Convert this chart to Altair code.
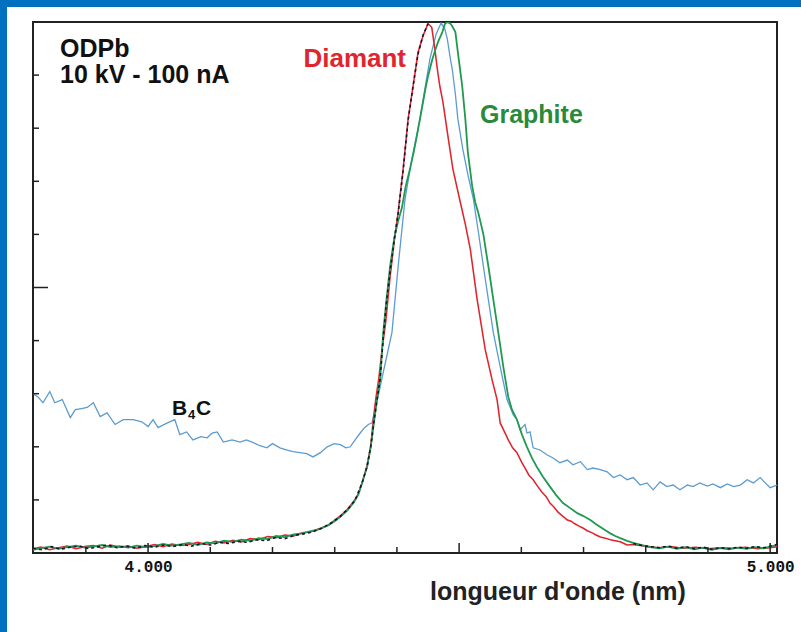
import altair as alt
import pandas as pd

# ---------------- data (x in nm, y in arbitrary units 0-10) ----------------
b4c_x = [3.815, 3.823, 3.831, 3.842, 3.850, 3.862, 3.875, 3.883, 3.893, 3.902, 3.912, 3.923, 3.934,
         3.947, 3.960, 3.976, 3.990, 4.000, 4.008, 4.016, 4.031, 4.043, 4.051, 4.062, 4.072, 4.085,
         4.095, 4.103, 4.111, 4.121, 4.135, 4.148, 4.158, 4.169, 4.180, 4.191, 4.200, 4.212, 4.222,
         4.233, 4.244, 4.255, 4.265, 4.277, 4.288, 4.299, 4.309, 4.318, 4.325, 4.334, 4.341, 4.348,
         4.354, 4.360, 4.368, 4.378, 4.392, 4.402, 4.413, 4.424, 4.437, 4.445, 4.453, 4.463, 4.471,
         4.477, 4.481, 4.486, 4.489, 4.494, 4.498, 4.506, 4.514, 4.523, 4.531, 4.539, 4.547, 4.555,
         4.566, 4.577, 4.582, 4.587, 4.593, 4.598, 4.606, 4.609, 4.614, 4.619, 4.630, 4.641, 4.651,
         4.662, 4.674, 4.683, 4.695, 4.706, 4.715, 4.727, 4.738, 4.748, 4.759, 4.770, 4.780, 4.791,
         4.802, 4.812, 4.823, 4.834, 4.844, 4.855, 4.867, 4.876, 4.887, 4.899, 4.908, 4.920, 4.931,
         4.941, 4.952, 4.963, 4.973, 4.984, 4.992, 5.000, 5.011]
b4c_y = [3.00, 2.94, 2.83, 3.04, 2.83, 2.89, 2.55, 2.70, 2.72, 2.74, 2.83, 2.57, 2.64,
         2.42, 2.51, 2.51, 2.47, 2.38, 2.51, 2.36, 2.45, 2.51, 2.23, 2.28, 2.13, 2.19,
         2.17, 2.26, 2.28, 2.09, 2.13, 2.09, 2.13, 2.08, 2.02, 1.98, 2.06, 1.98, 1.94,
         1.91, 1.89, 1.87, 1.81, 1.89, 2.00, 2.06, 2.04, 1.98, 2.00, 2.15, 2.26, 2.36,
         2.42, 2.45, 2.85, 3.40, 4.15, 5.40, 6.66, 7.42, 8.17, 8.74, 9.30, 9.77, 9.98,
         9.87, 9.68, 9.30, 9.11, 8.64, 8.17, 7.60, 7.13, 6.66, 6.04, 5.40, 4.77, 4.15,
         3.51, 2.89, 2.75, 2.60, 2.51, 2.32, 2.42, 2.26, 2.28, 1.98, 1.94, 1.85, 1.79,
         1.70, 1.75, 1.66, 1.72, 1.57, 1.60, 1.57, 1.53, 1.42, 1.47, 1.38, 1.42, 1.28,
         1.32, 1.19, 1.34, 1.25, 1.28, 1.19, 1.28, 1.25, 1.32, 1.26, 1.30, 1.23, 1.30,
         1.25, 1.28, 1.38, 1.32, 1.42, 1.32, 1.23, 1.28]

diamant_x = [3.815, 3.828, 3.842, 3.856, 3.870, 3.884, 3.898, 3.912, 3.926, 3.940, 3.954, 3.968,
             3.982, 3.996, 4.010, 4.024, 4.038, 4.052, 4.066, 4.080, 4.094, 4.108, 4.122, 4.136,
             4.150, 4.164, 4.178, 4.192, 4.206, 4.220, 4.234, 4.248, 4.262, 4.276, 4.290, 4.300,
             4.309, 4.320, 4.330, 4.338, 4.344, 4.352, 4.358, 4.362, 4.366, 4.371, 4.376, 4.382,
             4.389, 4.396, 4.402, 4.410, 4.418, 4.426, 4.434, 4.442, 4.450, 4.456, 4.461, 4.465,
             4.469, 4.474, 4.482, 4.490, 4.502, 4.510, 4.518, 4.529, 4.542, 4.553, 4.561, 4.566,
             4.573, 4.579, 4.586, 4.593, 4.600, 4.606, 4.612, 4.619, 4.626, 4.633, 4.640, 4.646,
             4.652, 4.659, 4.666, 4.674, 4.680, 4.686, 4.692, 4.699, 4.706, 4.714, 4.720, 4.727,
             4.735, 4.743, 4.751, 4.759, 4.765, 4.770, 4.778, 4.791, 4.805, 4.820, 4.840, 4.860,
             4.880, 4.900, 4.920, 4.940, 4.960, 4.980, 5.000, 5.011]
diamant_y = [0.08, 0.11, 0.06, 0.10, 0.13, 0.08, 0.12, 0.14, 0.09, 0.15, 0.11, 0.13,
             0.09, 0.12, 0.16, 0.12, 0.17, 0.14, 0.16, 0.20, 0.16, 0.22, 0.19, 0.24,
             0.21, 0.27, 0.25, 0.31, 0.29, 0.34, 0.32, 0.38, 0.40, 0.46, 0.52, 0.62,
             0.70, 0.82, 0.96, 1.12, 1.32, 1.64, 2.02, 2.50, 2.90, 3.30, 3.82, 4.35,
             5.20, 5.90, 6.42, 7.23, 8.17, 8.79, 9.43, 9.74, 9.97, 9.90, 9.49, 9.11,
             8.79, 8.49, 7.85, 7.23, 6.60, 6.19, 5.72, 4.77, 3.83, 3.26, 2.89, 2.45,
             2.28, 2.13, 1.98, 1.89, 1.72, 1.60, 1.47, 1.38, 1.26, 1.15, 1.06, 0.94,
             0.87, 0.77, 0.70, 0.62, 0.60, 0.55, 0.51, 0.47, 0.42, 0.38, 0.34, 0.30,
             0.28, 0.25, 0.23, 0.21, 0.18, 0.15, 0.16, 0.14, 0.12, 0.10, 0.12, 0.09,
             0.11, 0.08, 0.10, 0.09, 0.11, 0.08, 0.10, 0.12]

graphite_x = [3.815, 3.828, 3.842, 3.856, 3.870, 3.884, 3.898, 3.912, 3.926, 3.940, 3.954, 3.968,
              3.982, 3.996, 4.010, 4.024, 4.038, 4.052, 4.066, 4.080, 4.094, 4.108, 4.122, 4.136,
              4.150, 4.164, 4.178, 4.192, 4.206, 4.220, 4.234, 4.248, 4.262, 4.276, 4.290, 4.300,
              4.309, 4.320, 4.330, 4.338, 4.344, 4.352, 4.358, 4.363, 4.368, 4.373, 4.378, 4.383,
              4.389, 4.396, 4.402, 4.408, 4.414, 4.421, 4.427, 4.432, 4.437, 4.442, 4.446, 4.450,
              4.457, 4.461, 4.466, 4.473, 4.477, 4.481, 4.486, 4.489, 4.494, 4.498, 4.505, 4.510,
              4.514, 4.521, 4.526, 4.531, 4.539, 4.547, 4.555, 4.563, 4.571, 4.579, 4.585, 4.593,
              4.601, 4.609, 4.617, 4.625, 4.635, 4.646, 4.656, 4.667, 4.678, 4.690, 4.699, 4.711,
              4.719, 4.727, 4.735, 4.743, 4.751, 4.759, 4.770, 4.780, 4.794, 4.807, 4.822, 4.836,
              4.850, 4.864, 4.878, 4.892, 4.906, 4.920, 4.934, 4.948, 4.962, 4.976, 4.990, 5.000,
              5.011]
graphite_y = [0.06, 0.09, 0.12, 0.08, 0.11, 0.14, 0.10, 0.12, 0.15, 0.11, 0.13, 0.10,
              0.14, 0.11, 0.13, 0.17, 0.14, 0.16, 0.19, 0.15, 0.20, 0.18, 0.23, 0.21,
              0.25, 0.23, 0.28, 0.26, 0.32, 0.30, 0.35, 0.37, 0.41, 0.45, 0.53, 0.60,
              0.68, 0.80, 0.94, 1.10, 1.32, 1.62, 2.00, 2.45, 2.89, 3.26, 4.15, 4.75,
              5.40, 5.95, 6.25, 6.50, 6.90, 7.23, 7.55, 7.85, 8.17, 8.49, 8.75, 8.98,
              9.30, 9.45, 9.62, 9.81, 9.96, 10.0, 9.97, 9.92, 9.81, 9.43, 8.79, 8.17,
              7.55, 6.91, 6.60, 6.40, 6.00, 5.40, 4.77, 4.15, 3.51, 2.94, 2.70, 2.51,
              2.23, 2.00, 1.79, 1.62, 1.43, 1.25, 1.09, 0.94, 0.85, 0.75, 0.70, 0.62,
              0.55, 0.49, 0.43, 0.37, 0.32, 0.28, 0.23, 0.19, 0.15, 0.11, 0.09, 0.12,
              0.08, 0.11, 0.07, 0.10, 0.06, 0.09, 0.07, 0.10, 0.08, 0.11, 0.09, 0.12,
              0.15]

noir_gauche_x = [3.815, 3.830, 3.845, 3.860, 3.875, 3.890, 3.905, 3.920, 3.935, 3.950, 3.965, 3.980,
                 3.995, 4.010, 4.025, 4.040, 4.055, 4.070, 4.085, 4.100, 4.115, 4.130, 4.145, 4.160,
                 4.175, 4.190, 4.205, 4.220, 4.235, 4.250, 4.265, 4.280, 4.295, 4.309, 4.322, 4.333,
                 4.344, 4.352, 4.358, 4.363, 4.368, 4.373, 4.378, 4.383, 4.389, 4.396, 4.402, 4.410,
                 4.418, 4.426, 4.434, 4.442, 4.450]
noir_gauche_y = [0.09, 0.06, 0.12, 0.07, 0.11, 0.13, 0.08, 0.12, 0.15, 0.10, 0.13, 0.09,
                 0.14, 0.11, 0.15, 0.12, 0.16, 0.13, 0.18, 0.15, 0.20, 0.18, 0.22, 0.20,
                 0.25, 0.23, 0.29, 0.27, 0.33, 0.36, 0.40, 0.47, 0.57, 0.69, 0.84, 1.00,
                 1.32, 1.63, 2.01, 2.47, 2.89, 3.28, 4.05, 4.70, 5.30, 5.92, 6.40, 7.20,
                 8.15, 8.80, 9.40, 9.75, 9.97]
noir_droite_x = [4.780, 4.794, 4.807, 4.822, 4.836, 4.850, 4.864, 4.878, 4.892, 4.906, 4.920, 4.934,
                 4.948, 4.962, 4.976, 4.990, 5.000, 5.011]
noir_droite_y = [0.18, 0.14, 0.12, 0.10, 0.13, 0.09, 0.12, 0.08, 0.11, 0.07, 0.10, 0.08,
                 0.11, 0.09, 0.12, 0.10, 0.13, 0.16]

x_labels = [4.0, 5.0]
x_ticks_minor = [3.9, 4.1, 4.2, 4.3, 4.4, 4.6, 4.7, 4.8, 4.9]
x_ticks_major = [4.0, 4.5, 5.0]
y_ticks_minor = [1, 2, 3, 4, 6, 7, 8, 9]
y_ticks_major = [5]

# ---------------- tables ----------------
series = pd.concat([
    pd.DataFrame({"x": b4c_x, "y": b4c_y, "s": "B4C"}),
    pd.DataFrame({"x": diamant_x, "y": diamant_y, "s": "Diamant"}),
    pd.DataFrame({"x": graphite_x, "y": graphite_y, "s": "Graphite"}),
], ignore_index=True)
noir = pd.concat([
    pd.DataFrame({"x": noir_gauche_x, "y": noir_gauche_y, "seg": "g"}),
    pd.DataFrame({"x": noir_droite_x, "y": noir_droite_y, "seg": "d"}),
], ignore_index=True)

W, H = 744, 531
xs = alt.Scale(domain=[3.815, 5.011], nice=False, zero=False)
ys = alt.Scale(domain=[0, 10], nice=False, zero=False)
FONT = "Liberation Sans"

lines = alt.Chart(series).mark_line(clip=True, interpolate="linear").encode(
    x=alt.X("x:Q", scale=xs,
            axis=alt.Axis(values=x_labels, format=".3f", title=None, domain=False, ticks=False,
                          grid=False, labelFont="Liberation Mono", labelFontWeight="bold",
                          labelFontSize=16, labelColor="#111111", labelPadding=5)),
    y=alt.Y("y:Q", scale=ys, axis=None),
    color=alt.Color("s:N", legend=None,
                    scale=alt.Scale(domain=["B4C", "Diamant", "Graphite"],
                                    range=["#5b9bd0", "#e0252f", "#1f9a50"])),
    strokeWidth=alt.StrokeWidth("s:N", legend=None,
                                scale=alt.Scale(domain=["B4C", "Diamant", "Graphite"],
                                                range=[1.3, 1.8, 1.8])),
    order=alt.Order("x:Q"),
)

noir_line = alt.Chart(noir).mark_line(clip=True, color="#151530", strokeWidth=1.6,
                                      strokeDash=[3, 3]).encode(
    x=alt.X("x:Q", scale=xs), y=alt.Y("y:Q", scale=ys), detail="seg:N", order=alt.Order("x:Q"))

xt_minor = alt.Chart(pd.DataFrame({"t": x_ticks_minor})).mark_rule(color="#222", strokeWidth=1.5).encode(
    x=alt.X("t:Q", scale=xs), y=alt.value(H), y2=alt.value(H - 6))
xt_major = alt.Chart(pd.DataFrame({"t": x_ticks_major})).mark_rule(color="#222", strokeWidth=1.5).encode(
    x=alt.X("t:Q", scale=xs), y=alt.value(H), y2=alt.value(H - 10))
yt_minor = alt.Chart(pd.DataFrame({"t": y_ticks_minor})).mark_rule(color="#222", strokeWidth=1.5).encode(
    y=alt.Y("t:Q", scale=ys), x=alt.value(0), x2=alt.value(6))
yt_major = alt.Chart(pd.DataFrame({"t": y_ticks_major})).mark_rule(color="#222", strokeWidth=1.5).encode(
    y=alt.Y("t:Q", scale=ys), x=alt.value(0), x2=alt.value(15))

one = alt.Data(values=[{}])


def txt(text, x, y, size, color="#111111", align="left", weight="bold", font=FONT):
    return alt.Chart(one).mark_text(text=text, align=align, baseline="alphabetic", fontSize=size,
                                    fontWeight=weight, font=font, color=color).encode(
        x=alt.value(x), y=alt.value(y))


labels = [
    txt("ODPb", 27, 35, 25),
    txt("10 kV - 100 nA", 27, 61, 25),
    txt("Diamant", 373, 45, 26, color="#e0252f", align="right"),
    txt("Graphite", 447, 101, 25, color="#2a8a3c"),
    txt("B", 139, 393, 21),
    txt("4", 155, 397, 13),
    txt("C", 163, 393, 21),
    txt("longueur d'onde (nm)", 397, 578, 25, color="#222222"),
]

border_left = alt.Chart(one).mark_rect(color="#0070c0").encode(
    x=alt.value(-33), x2=alt.value(-26), y=alt.value(-22), y2=alt.value(H + 79))
border_top = alt.Chart(one).mark_rect(color="#0070c0").encode(
    x=alt.value(-33), x2=alt.value(W + 24), y=alt.value(-22), y2=alt.value(-15))

chart = alt.layer(
    border_left, border_top, lines, noir_line, xt_minor, xt_major, yt_minor, yt_major, *labels
).properties(
    width=W, height=H,
    padding={"left": 33, "top": 22, "right": 24, "bottom": 79},
    autosize=alt.AutoSizeParams(type="none"),
    background="white",
).configure_view(stroke="#222222", strokeWidth=2)

chart.save("out.html", embed_options={"renderer": "svg", "actions": False})
